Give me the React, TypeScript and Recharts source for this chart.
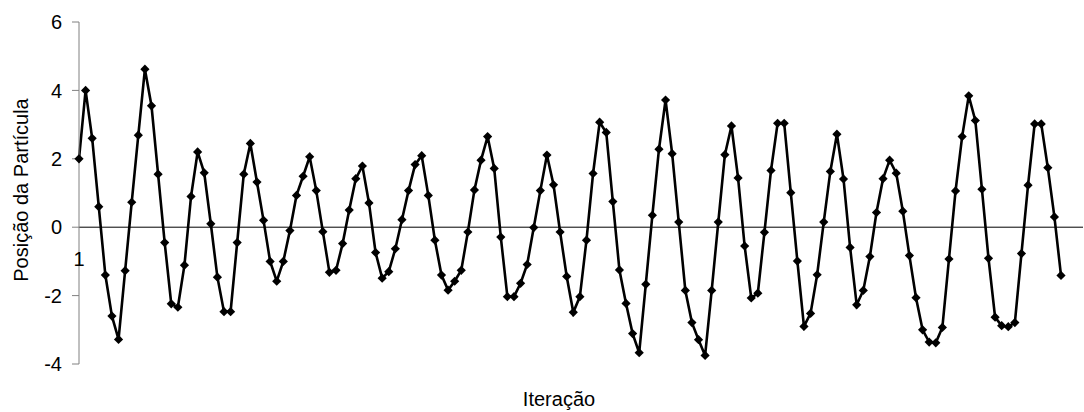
import React from 'react';
import { LineChart, Line, XAxis, YAxis, ReferenceLine, ReferenceDot } from 'recharts';

const iterations: number[] = Array.from({ length: 150 }, (_, i) => i + 1);

const positions: number[] = [
  2.0, 4.0, 2.6, 0.6, -1.4, -2.6, -3.28, -1.27, 0.73, 2.69,
  4.62, 3.55, 1.55, -0.45, -2.24, -2.34, -1.11, 0.9, 2.2, 1.59,
  0.1, -1.46, -2.47, -2.47, -0.45, 1.55, 2.45, 1.32, 0.2, -1.0,
  -1.58, -1.0, -0.1, 0.93, 1.49, 2.06, 1.07, -0.13, -1.32, -1.26,
  -0.48, 0.5, 1.42, 1.79, 0.71, -0.74, -1.49, -1.3, -0.63, 0.22,
  1.07, 1.83, 2.09, 0.93, -0.38, -1.4, -1.84, -1.58, -1.26, -0.14,
  1.09, 1.96, 2.65, 1.72, -0.29, -2.03, -2.03, -1.64, -1.09, -0.01,
  1.07, 2.11, 1.24, -0.14, -1.44, -2.49, -2.03, -0.38, 1.57, 3.07,
  2.77, 0.75, -1.25, -2.23, -3.11, -3.67, -1.67, 0.35, 2.28, 3.72,
  2.15, 0.15, -1.85, -2.79, -3.29, -3.75, -1.85, 0.15, 2.12, 2.96,
  1.44, -0.55, -2.07, -1.93, -0.15, 1.66, 3.04, 3.04, 1.01, -0.99,
  -2.9, -2.52, -1.39, 0.15, 1.63, 2.72, 1.41, -0.59, -2.27, -1.85,
  -0.86, 0.43, 1.42, 1.96, 1.58, 0.47, -0.83, -2.06, -3.0, -3.36,
  -3.38, -2.93, -0.93, 1.06, 2.65, 3.84, 3.12, 1.11, -0.91, -2.63,
  -2.88, -2.91, -2.79, -0.77, 1.23, 3.02, 3.02, 1.74, 0.3, -1.41,
];

const yTicks: number[] = [-4, -2, 0, 2, 4, 6];
const xTickLabel = '1';
const xTitle = 'Iteração';
const yTitle = 'Posição da Partícula';

const data = iterations.map((it, i) => ({ iter: it, pos: positions[i] }));

const FONT = '"Liberation Sans", Arial, sans-serif';

const Diamond = (props: any) => {
  const { cx, cy, index } = props;
  if (cx == null || cy == null) return <g key={`d-${index}`} />;
  const r = 4.6;
  return (
    <path
      key={`d-${index}`}
      d={`M${cx},${cy - r}L${cx + r},${cy}L${cx},${cy + r}L${cx - r},${cy}Z`}
      fill="#000"
      stroke="none"
    />
  );
};

const YTitle = (props: any) => {
  const vb = props.viewBox || {};
  const cx = 21;
  const cy = (vb.y ?? 0) + (vb.height ?? 0) / 2 - 3;
  return (
    <text
      x={cx}
      y={cy}
      transform={`rotate(-90, ${cx}, ${cy})`}
      textAnchor="middle"
      dominantBaseline="central"
      fontSize={20}
      fontFamily={FONT}
      fill="#000"
    >
      {yTitle}
    </text>
  );
};

const XTitle = (props: any) => {
  const vb = props.viewBox || {};
  const cx = (vb.x ?? 0) + (vb.width ?? 0) / 2 - 22;
  const y = 406;
  return (
    <text x={cx} y={y} textAnchor="middle" fontSize={20} fontFamily={FONT} fill="#000">
      {xTitle}
    </text>
  );
};

export default function App() {
  return (
    <div style={{ position: 'absolute', left: 0, top: 0, width: 1084, height: 412, background: '#fff' }}>
      <LineChart
        width={1084}
        height={412}
        data={data}
        margin={{ top: 22, right: 1, bottom: 0, left: 0 }}
        style={{ fontFamily: FONT }}
      >
        <XAxis
          dataKey="iter"
          type="number"
          domain={[1, 150]}
          padding={{ left: 0, right: 22 }}
          height={48}
          axisLine={false}
          tickLine={false}
          tick={false}
          label={XTitle}
        />
        <YAxis
          type="number"
          domain={[-4, 6]}
          ticks={yTicks}
          width={79}
          axisLine={{ stroke: '#808080', strokeWidth: 1 }}
          tickLine={{ stroke: '#808080', strokeWidth: 1 }}
          tickSize={7}
          tickMargin={10}
          tick={{ fontSize: 20, fill: '#000', fontFamily: FONT }}
          label={YTitle}
        />
        <ReferenceLine y={0} stroke="#000" strokeWidth={1} />
        <ReferenceDot
          x={1}
          y={0}
          r={0}
          fill="none"
          stroke="none"
          label={{ value: xTickLabel, position: 'bottom', offset: 25, fontSize: 20, fill: '#000', fontFamily: FONT }}
        />
        <Line
          type="linear"
          dataKey="pos"
          stroke="#000"
          strokeWidth={2.6}
          dot={Diamond}
          activeDot={false}
          isAnimationActive={false}
        />
      </LineChart>
    </div>
  );
}
